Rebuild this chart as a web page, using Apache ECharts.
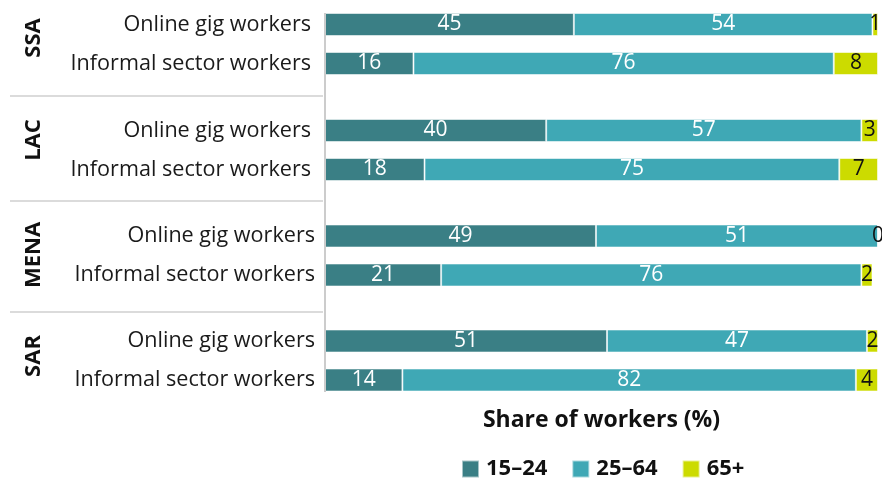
<!DOCTYPE html>
<html>
<head>
<meta charset="utf-8">
<script src="https://cdn.jsdelivr.net/npm/echarts@6/dist/echarts.min.js"></script>
<style>
  html, body { margin: 0; padding: 0; background: #fff; }
  #chart { width: 882px; height: 479px; }
</style>
</head>
<body>
<div id="chart"></div>
<script>
// Age composition of online gig workers vs informal sector workers, by region
const regions = ['SSA', 'LAC', 'MENA', 'SAR'];
const workerTypes = ['Online gig workers', 'Informal sector workers'];
const ageGroups = ['15–24', '25–64', '65+'];

// values per region: [online gig, informal sector]
const age15to24 = [[45, 16], [40, 18], [49, 21], [51, 14]];
const age25to64 = [[54, 76], [57, 75], [51, 76], [47, 82]];
const age65plus = [[1, 8], [3, 7], [0, 2], [2, 4]];

const axisTitle = 'Share of workers (%)';

const FONT = '"Open Sans", "Noto Sans", sans-serif';
const colors = ['#3a7f85', '#3fa8b5', '#ccdb00'];
const labelColors = ['#ffffff', '#ffffff', '#111111'];
const seriesValues = [age15to24, age25to64, age65plus];

// panel layout
const plotLeft = 325;
const plotRight = 4;
const panelTops = [5, 111, 216.5, 321.5];
const panelHeight = 78;
const labelMargins = [14, 14, 10, 10];
const regionLabelY = [38, 140, 255, 356];
const separatorY = [96, 201, 312];

const grids = [], xAxes = [], yAxes = [], series = [];
regions.forEach((region, g) => {
  grids.push({ left: plotLeft, right: plotRight, top: panelTops[g], height: panelHeight });
  const last = g === regions.length - 1;
  xAxes.push({
    gridIndex: g, type: 'value', min: 0, max: 100,
    show: last,
    name: last ? axisTitle : '',
    nameLocation: 'middle', nameGap: 9,
    nameTextStyle: { fontFamily: FONT, fontSize: 23, fontWeight: 'bold', color: '#111' },
    axisLine: { show: false }, axisTick: { show: false },
    axisLabel: { show: false }, splitLine: { show: false }
  });
  yAxes.push({
    gridIndex: g, type: 'category', inverse: true, data: workerTypes,
    axisLine: { show: false }, axisTick: { show: false },
    axisLabel: { fontFamily: FONT, fontSize: 21.6, color: '#1a1a1a', margin: labelMargins[g] },
    splitLine: { show: false }
  });
  ageGroups.forEach((age, s) => {
    series.push({
      name: age, type: 'bar', stack: 'r' + g,
      xAxisIndex: g, yAxisIndex: g,
      barWidth: 23,
      data: seriesValues[s][g],
      itemStyle: { color: colors[s], borderColor: 'rgba(255,255,255,0.55)', borderWidth: 1 },
      label: {
        show: true, position: 'inside',
        fontFamily: FONT, fontSize: 21, color: labelColors[s]
      },
      emphasis: { disabled: true }
    });
  });
});

const graphics = [
  { type: 'line', shape: { x1: plotLeft, y1: 13, x2: plotLeft, y2: 392 },
    style: { stroke: '#cccccc', lineWidth: 2 }, z: 10 }
];
separatorY.forEach(y => graphics.push({
  type: 'line', shape: { x1: 10, y1: y, x2: plotLeft - 2, y2: y },
  style: { stroke: '#cfcfcf', lineWidth: 1.5 }
}));
regions.forEach((region, g) => graphics.push({
  type: 'text', x: 34, y: regionLabelY[g], rotation: Math.PI / 2,
  style: {
    text: region, align: 'center', verticalAlign: 'middle',
    font: 'bold 22px ' + FONT, fill: '#111'
  }
}));

const chart = echarts.init(document.getElementById('chart'));
chart.setOption({
  animation: false,
  backgroundColor: '#ffffff',
  grid: grids,
  xAxis: xAxes,
  yAxis: yAxes,
  series: series,
  legend: {
    data: ageGroups,
    left: 456, top: 453,
    itemWidth: 17, itemHeight: 17, itemGap: 24,
    icon: 'rect',
    textStyle: { fontFamily: FONT, fontSize: 22, fontWeight: 'bold', color: '#111', padding: [0, 0, 0, 2] }
  },
  graphic: graphics
});
</script>
</body>
</html>
